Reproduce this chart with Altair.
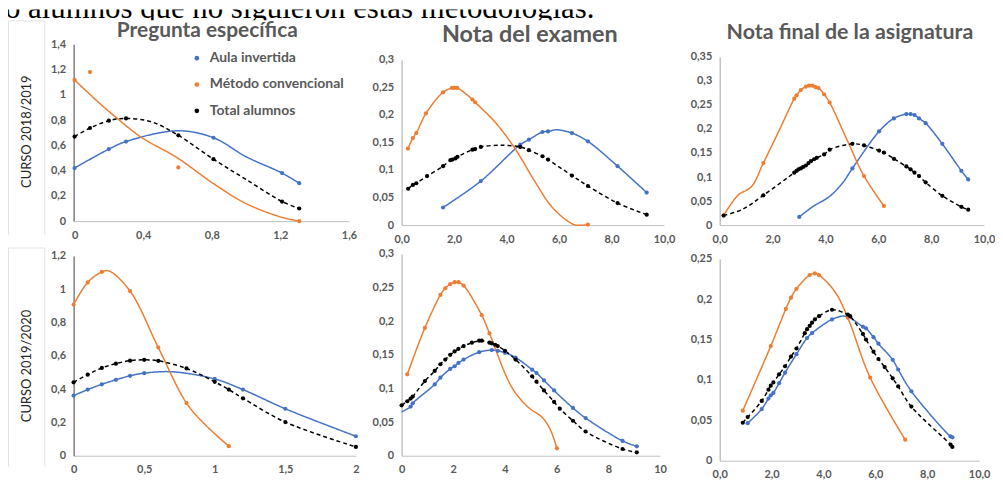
import altair as alt
import pandas as pd

SERIES = ["Aula invertida", "Método convencional", "Total alumnos"]
COLORS = ["#4472C4", "#ED7D31", "#000000"]
DASHES = [[1, 0], [1, 0], [4, 3]]
TITLES = ["Pregunta específica", "Nota del examen", "Nota final de la asignatura"]
ROW_LABELS = ["CURSO 2018/2019", "CURSO 2019/2020"]
HEADER = "o alumnos que no siguieron estas metodologías."

# ---------- Panel 1: Pregunta específica 2018/2019 ----------
P1_AULA_X = [0.00, 0.20, 0.30, 0.81, 1.21, 1.31]
P1_AULA_Y = [0.42, 0.57, 0.63, 0.66, 0.38, 0.30]
P1_AULA_EX = [0.60, 1.00]
P1_AULA_EY = [0.715, 0.51]
P1_METO_X = [0.00, 0.09, 0.605, 1.31]
P1_METO_Y = [1.117, 1.18, 0.425, 0.00]
P1_METO_LX = [0.00, 0.13, 0.23, 0.39, 0.60, 0.81, 1.00, 1.20, 1.31]
P1_METO_LY = [1.117, 0.952, 0.834, 0.663, 0.50, 0.297, 0.139, 0.034, 0.0]
P1_TOT_X = [0.00, 0.09, 0.20, 0.30, 0.605, 0.81, 1.21, 1.31]
P1_TOT_Y = [0.669, 0.737, 0.795, 0.813, 0.679, 0.49, 0.155, 0.10]
P1_TOT_EX = [0.45, 1.00]
P1_TOT_EY = [0.785, 0.33]

# ---------- Panel 2: Nota del examen 2018/2019 ----------
P2_AULA_X = [1.58, 3.02, 4.52, 4.85, 5.37, 5.58, 6.49, 7.10, 8.23, 9.34]
P2_AULA_Y = [0.032, 0.080, 0.146, 0.155, 0.169, 0.170, 0.167, 0.152, 0.107, 0.059]
P2_AULA_EX = [5.90]
P2_AULA_EY = [0.173]
P2_METO_X = [0.24, 0.43, 0.56, 0.93, 1.58, 1.92, 2.02, 2.12, 2.70, 2.80, 7.10]
P2_METO_Y = [0.139, 0.158, 0.167, 0.203, 0.241, 0.249, 0.249, 0.249, 0.228, 0.223, 0.001]
P2_METO_EX = [3.56, 4.32, 5.08, 5.71, 6.34, 6.65]
P2_METO_EY = [0.187, 0.139, 0.079, 0.034, 0.007, 0.0]
P2_TOT_X = [0.25, 0.43, 0.56, 0.97, 1.58, 1.86, 1.94, 2.05, 2.13, 2.70, 2.80, 3.02,
            4.52, 4.85, 5.37, 5.58, 6.49, 7.10, 8.23, 9.34]
P2_TOT_Y = [0.066, 0.073, 0.076, 0.089, 0.107, 0.118, 0.119, 0.121, 0.124, 0.137, 0.138, 0.142,
            0.142, 0.136, 0.125, 0.119, 0.090, 0.071, 0.040, 0.019]
P2_TOT_EX = [3.80]
P2_TOT_EY = [0.145]

# ---------- Panel 3: Nota final 2018/2019 ----------
P3_AULA_X = [3.01, 5.02, 6.03, 6.59, 7.06, 7.22, 7.37, 7.54, 7.79, 8.42, 9.14, 9.40]
P3_AULA_Y = [0.017, 0.118, 0.195, 0.222, 0.231, 0.231, 0.229, 0.222, 0.212, 0.169, 0.113, 0.095]
P3_AULA_EX = [3.51, 4.14, 4.64]
P3_AULA_EY = [0.038, 0.059, 0.087]
P3_METO_X = [0.15, 1.65, 2.82, 2.91, 3.07, 3.26, 3.38, 3.51, 3.63, 3.74, 3.95, 4.16, 5.46, 6.21]
P3_METO_Y = [0.020, 0.129, 0.263, 0.270, 0.281, 0.288, 0.290, 0.290, 0.287, 0.285, 0.272, 0.255, 0.102, 0.040]
P3_METO_EX = [0.69, 1.20, 2.25, 4.77]
P3_METO_EY = [0.062, 0.080, 0.197, 0.183]
P3_TOT_X = [0.15, 1.65, 2.82, 2.91, 2.98, 3.07, 3.16, 3.26, 3.36, 3.45, 3.57, 3.67, 3.95, 4.16,
            5.02, 5.46, 6.03, 6.21, 6.59, 7.06, 7.22, 7.37, 7.54, 7.79, 8.42, 9.14, 9.40]
P3_TOT_Y = [0.020, 0.062, 0.109, 0.113, 0.116, 0.118, 0.121, 0.124, 0.129, 0.133, 0.137, 0.140, 0.147, 0.157,
            0.169, 0.166, 0.155, 0.151, 0.138, 0.122, 0.116, 0.109, 0.102, 0.089, 0.061, 0.038, 0.032]
P3_TOT_EX = [0.87]
P3_TOT_EY = [0.033]

# ---------- Panel 4: Pregunta específica 2019/2020 ----------
P4_AULA_X = [0.00, 0.10, 0.20, 0.30, 0.40, 0.50, 1.00, 1.20, 1.50, 2.00]
P4_AULA_Y = [0.361, 0.397, 0.429, 0.456, 0.480, 0.496, 0.461, 0.397, 0.282, 0.117]
P4_AULA_EX = [0.70]
P4_AULA_EY = [0.504]
P4_METO_X = [0.00, 0.10, 0.20, 0.40, 0.60, 0.80, 1.10]
P4_METO_Y = [0.908, 1.041, 1.104, 0.989, 0.650, 0.316, 0.057]
P4_METO_EX = [0.25, 0.94]
P4_METO_EY = [1.11, 0.18]
P4_TOT_X = [0.00, 0.10, 0.20, 0.30, 0.40, 0.50, 0.60, 0.80, 1.00, 1.10, 1.20, 1.50, 2.00]
P4_TOT_Y = [0.441, 0.487, 0.527, 0.553, 0.571, 0.576, 0.570, 0.524, 0.444, 0.397, 0.345, 0.202, 0.053]

# ---------- Panel 5: Nota del examen 2019/2020 ----------
P5_AULA_X = [0.35, 0.43, 1.28, 1.50, 1.88, 2.05, 2.20, 2.40, 3.00, 3.49, 3.72, 4.00, 4.41,
             5.05, 5.22, 5.51, 5.90, 6.63, 7.12, 8.55, 9.10]
P5_AULA_Y = [0.073, 0.078, 0.106, 0.116, 0.129, 0.133, 0.138, 0.143, 0.154, 0.157, 0.156, 0.153, 0.146,
             0.128, 0.123, 0.112, 0.097, 0.071, 0.056, 0.022, 0.014]
P5_AULA_EX = [0.00]
P5_AULA_EY = [0.065]
P5_METO_X = [0.22, 0.90, 1.50, 1.69, 1.88, 2.05, 2.20, 2.40, 3.10, 3.40, 6.01]
P5_METO_Y = [0.121, 0.190, 0.239, 0.249, 0.255, 0.258, 0.258, 0.253, 0.209, 0.182, 0.011]
P5_METO_EX = [4.26, 4.90, 5.41, 5.73]
P5_METO_EY = [0.102, 0.072, 0.058, 0.041]
P5_TOT_X = [0.00, 0.22, 0.35, 0.43, 0.90, 1.28, 1.50, 1.69, 1.88, 2.05, 2.20, 2.40, 2.72, 3.00, 3.10,
            3.40, 3.49, 3.62, 3.72, 4.00, 4.41, 5.05, 5.22, 5.51, 5.90, 6.12, 6.63, 7.12, 8.55, 9.10]
P5_TOT_Y = [0.075, 0.081, 0.085, 0.088, 0.111, 0.126, 0.136, 0.143, 0.150, 0.155, 0.159, 0.163, 0.168, 0.171, 0.171,
            0.168, 0.167, 0.165, 0.163, 0.156, 0.143, 0.118, 0.110, 0.097, 0.080, 0.070, 0.052, 0.036, 0.010, 0.005]

# ---------- Panel 6: Nota final 2019/2020 ----------
P6_AULA_X = [1.08, 1.62, 1.88, 1.97, 2.07, 2.29, 2.52, 2.96, 3.37, 3.56, 4.33, 5.52, 5.64, 5.93, 6.12,
             6.67, 6.88, 7.39, 8.90, 8.97]
P6_AULA_Y = [0.0465, 0.064, 0.077, 0.081, 0.084, 0.096, 0.109, 0.132, 0.152, 0.158, 0.175, 0.166, 0.164, 0.153, 0.145,
             0.125, 0.113, 0.086, 0.030, 0.029]
P6_AULA_EX = [4.85]
P6_AULA_EY = [0.179]
P6_METO_X = [0.89, 1.97, 2.55, 2.75, 2.96, 3.47, 3.67, 3.83, 4.94, 5.80, 7.15]
P6_METO_Y = [0.062, 0.142, 0.188, 0.202, 0.213, 0.230, 0.232, 0.230, 0.177, 0.103, 0.026]
P6_METO_EX = [4.45]
P6_METO_EY = [0.209]
P6_TOT_X = [0.89, 1.08, 1.62, 1.88, 1.97, 2.07, 2.29, 2.52, 2.75, 2.96, 3.28, 3.37, 3.47, 3.56, 3.67, 3.83,
            4.33, 4.94, 5.03, 5.52, 5.64, 5.93, 6.12, 6.36, 6.67, 6.88, 7.39, 8.90, 8.97]
P6_TOT_Y = [0.047, 0.054, 0.074, 0.088, 0.093, 0.097, 0.107, 0.117, 0.129, 0.139, 0.158, 0.163, 0.167, 0.171, 0.175, 0.179,
            0.187, 0.181, 0.179, 0.157, 0.150, 0.135, 0.126, 0.116, 0.102, 0.092, 0.067, 0.020, 0.017]

# ---------- axis ticks ----------
X_P1 = [0, 0.4, 0.8, 1.2, 1.6]
X_P4 = [0, 0.5, 1, 1.5, 2]
X_TEN = [0, 2, 4, 6, 8, 10]
Y_P1 = [0, 0.2, 0.4, 0.6, 0.8, 1, 1.2, 1.4]
Y_P2 = [0, 0.05, 0.1, 0.15, 0.2, 0.25, 0.3]
Y_P3 = [0, 0.05, 0.1, 0.15, 0.2, 0.25, 0.3, 0.35]
Y_P4 = [0, 0.2, 0.4, 0.6, 0.8, 1, 1.2]
Y_P6 = [0, 0.05, 0.1, 0.15, 0.2, 0.25]

FONT = "Lato"
GREY = "#595959"
BOX = "#e2e2e2"


def markers_df(parts):
    rows = []
    for s, xs, ys in parts:
        for x, y in zip(xs, ys):
            rows.append({"series": s, "x": x, "y": y})
    return pd.DataFrame(rows)


def line_df(parts):
    rows = []
    for s, xs, ys, exs, eys in parts:
        for x, y in zip(list(xs) + list(exs), list(ys) + list(eys)):
            rows.append({"series": s, "x": x, "y": y})
    return pd.DataFrame(rows).sort_values(["series", "x"])


def xaxis(values, fmt):
    return alt.Axis(values=values,
                    labelExpr="replace(format(datum.value, '%s'), '.', ',')" % fmt,
                    ticks=False, grid=False, domainColor="#bfbfbf", domainWidth=1,
                    labelPadding=8, labelFlush=False, labelOverlap=False, title=None,
                    labelFont=FONT, labelFontSize=11, labelFontWeight="bold", labelColor=GREY)


def yaxis(values, color):
    return alt.Axis(values=values,
                    labelExpr="replace(format(datum.value, '~g'), '.', ',')",
                    ticks=False, grid=False, domainColor=color, domainWidth=1,
                    labelPadding=8, labelOverlap=False, title=None,
                    labelFont=FONT, labelFontSize=11, labelFontWeight="bold", labelColor=GREY)


def panel(mk, ln, xd, xv, xf, yd, yv, w, h, ycolor, xrange, yrange, title=None, legend=False):
    cs = alt.Scale(domain=SERIES, range=COLORS)
    ds = alt.Scale(domain=SERIES, range=DASHES)
    X = alt.X("x:Q", scale=alt.Scale(domain=xd, nice=False, zero=False, range=xrange),
              axis=xaxis(xv, xf))
    Y = alt.Y("y:Q", scale=alt.Scale(domain=yd, nice=False, zero=False, range=yrange),
              axis=yaxis(yv, ycolor))
    lines = alt.Chart(ln).mark_line(interpolate="catmull-rom", strokeWidth=1.5).encode(
        x=X, y=Y,
        color=alt.Color("series:N", scale=cs),
        strokeDash=alt.StrokeDash("series:N", scale=ds, legend=None),
        detail="series:N")
    if legend:
        col = alt.Color("series:N", scale=cs, legend=alt.Legend(
            orient="none", legendX=183, legendY=42, title=None,
            labelFont=FONT, labelFontSize=14, labelFontWeight="bold",
            labelColor=GREY, symbolType="circle", symbolSize=22,
            symbolStrokeWidth=0, rowPadding=12.5, padding=0, labelOffset=6,
            direction="vertical"))
    else:
        col = alt.Color("series:N", scale=cs)
    pts = alt.Chart(mk).mark_circle(size=18, opacity=1).encode(x=X, y=Y, color=col)
    layers = [pts, lines] if legend else [lines, pts]
    if title is not None:
        text, fs, tx, ty = title
        layers.append(alt.Chart(alt.Data(values=[{"t": text}])).mark_text(
            font=FONT, fontSize=fs, fontWeight="bold", color=GREY,
            align="center", baseline="alphabetic").encode(
            text="t:N", x=alt.value(tx), y=alt.value(ty)))
    return alt.layer(*layers).properties(width=w, height=h)


A, M, T = SERIES

p1 = panel(
    markers_df([(A, P1_AULA_X, P1_AULA_Y), (M, P1_METO_X, P1_METO_Y), (T, P1_TOT_X, P1_TOT_Y)]),
    line_df([(A, P1_AULA_X, P1_AULA_Y, P1_AULA_EX, P1_AULA_EY),
             (M, P1_METO_LX, P1_METO_LY, [], []),
             (T, P1_TOT_X, P1_TOT_Y, P1_TOT_EX, P1_TOT_EY)]),
    [0, 1.6], X_P1, "~g", [0, 1.4], Y_P1, 284, 178, "#404040", [1, 277], [178, 0],
    title=(TITLES[0], 21, 134.5, -7), legend=True)

p2 = panel(
    markers_df([(A, P2_AULA_X, P2_AULA_Y), (M, P2_METO_X, P2_METO_Y), (T, P2_TOT_X, P2_TOT_Y)]),
    line_df([(A, P2_AULA_X, P2_AULA_Y, P2_AULA_EX, P2_AULA_EY),
             (M, P2_METO_X, P2_METO_Y, P2_METO_EX, P2_METO_EY),
             (T, P2_TOT_X, P2_TOT_Y, P2_TOT_EX, P2_TOT_EY)]),
    [0, 10], X_TEN, ".1f", [0, 0.3], Y_P2, 274, 182, "#a6a6a6", [0, 264], [182, 15.7],
    title=(TITLES[1], 23.5, 129, -2))

p3 = panel(
    markers_df([(A, P3_AULA_X, P3_AULA_Y), (M, P3_METO_X, P3_METO_Y), (T, P3_TOT_X, P3_TOT_Y)]),
    line_df([(A, P3_AULA_X, P3_AULA_Y, P3_AULA_EX, P3_AULA_EY),
             (M, P3_METO_X, P3_METO_Y, P3_METO_EX, P3_METO_EY),
             (T, P3_TOT_X, P3_TOT_Y, P3_TOT_EX, P3_TOT_EY)]),
    [0, 10], X_TEN, ".1f", [0, 0.35], Y_P3, 266, 182, "#a6a6a6", [0, 266], [182, 12.7],
    title=(TITLES[2], 21.5, 131, -5))

p4 = panel(
    markers_df([(A, P4_AULA_X, P4_AULA_Y), (M, P4_METO_X, P4_METO_Y), (T, P4_TOT_X, P4_TOT_Y)]),
    line_df([(A, P4_AULA_X, P4_AULA_Y, P4_AULA_EX, P4_AULA_EY),
             (M, P4_METO_X, P4_METO_Y, P4_METO_EX, P4_METO_EY),
             (T, P4_TOT_X, P4_TOT_Y, [], [])]),
    [0, 2], X_P4, "~g", [0, 1.2], Y_P4, 284, 203, "#404040", [0, 284], [203, 2])

p5 = panel(
    markers_df([(A, P5_AULA_X, P5_AULA_Y), (M, P5_METO_X, P5_METO_Y), (T, P5_TOT_X, P5_TOT_Y)]),
    line_df([(A, P5_AULA_X, P5_AULA_Y, P5_AULA_EX, P5_AULA_EY),
             (M, P5_METO_X, P5_METO_Y, P5_METO_EX, P5_METO_EY),
             (T, P5_TOT_X, P5_TOT_Y, [], [])]),
    [0, 10], X_TEN, "~g", [0, 0.3], Y_P2, 274, 203, "#a6a6a6", [0, 260], [203, 0])

p6 = panel(
    markers_df([(A, P6_AULA_X, P6_AULA_Y), (M, P6_METO_X, P6_METO_Y), (T, P6_TOT_X, P6_TOT_Y)]),
    line_df([(A, P6_AULA_X, P6_AULA_Y, P6_AULA_EX, P6_AULA_EY),
             (M, P6_METO_X, P6_METO_Y, P6_METO_EX, P6_METO_EY),
             (T, P6_TOT_X, P6_TOT_Y, [], [])]),
    [0, 10], X_TEN, ".1f", [0, 0.25], Y_P6, 266, 208, "#a6a6a6", [0, 261], [208, 5])


def vline(x, y1, y2):
    return alt.Chart(alt.Data(values=[{"t": ""}])).mark_rule(color=BOX, strokeWidth=1).encode(
        x=alt.value(x), y=alt.value(y1), y2=alt.value(y2))


def hline(y, x1, x2):
    return alt.Chart(alt.Data(values=[{"t": ""}])).mark_rule(color=BOX, strokeWidth=1).encode(
        y=alt.value(y), x=alt.value(x1), x2=alt.value(x2))


def row_label(text, w, h, y, box_top, box_bottom, guard=None):
    lab = alt.Chart(alt.Data(values=[{"t": text}])).mark_text(
        angle=270, font=FONT, fontSize=13, color="#262626", align="center", baseline="middle"
    ).encode(text="t:N", x=alt.value(18.7), y=alt.value(y))
    layers = [vline(0.5, box_top, box_bottom), vline(37, box_top, box_bottom),
              hline(box_top, 0.5, 37), lab]
    if guard is not None:
        layers.append(alt.Chart(alt.Data(values=[{"t": ""}])).mark_rule(opacity=0).encode(
            x=alt.value(0), x2=alt.value(1), y=alt.value(guard), y2=alt.value(guard + 1)))
    return alt.layer(*layers).properties(width=w, height=h)


body = alt.concat(
    row_label(ROW_LABELS[0], 20, 190, 88, -23.5, 192, guard=-24), p1, p2, p3,
    row_label(ROW_LABELS[1], 20, 208, 112.7, -6, 214), p4, p5, p6,
    columns=4, spacing={"row": 21, "column": 46}, bounds="flush", align="each"
).resolve_scale(x="independent", y="independent")

header = alt.Chart(alt.Data(values=[{"t": HEADER}])).mark_text(
    font="Liberation Serif", fontSize=31, color="#000000", align="left",
    baseline="alphabetic", clip=True
).encode(text="t:N", x=alt.value(-3), y=alt.value(9)).properties(width=600, height=11)

chart = alt.vconcat(header, body, spacing=0).resolve_scale(
    x="independent", y="independent"
).properties(padding=0, background="white").configure_view(strokeWidth=0)

chart.save("out.html", embed_options={"renderer": "svg", "actions": False})
